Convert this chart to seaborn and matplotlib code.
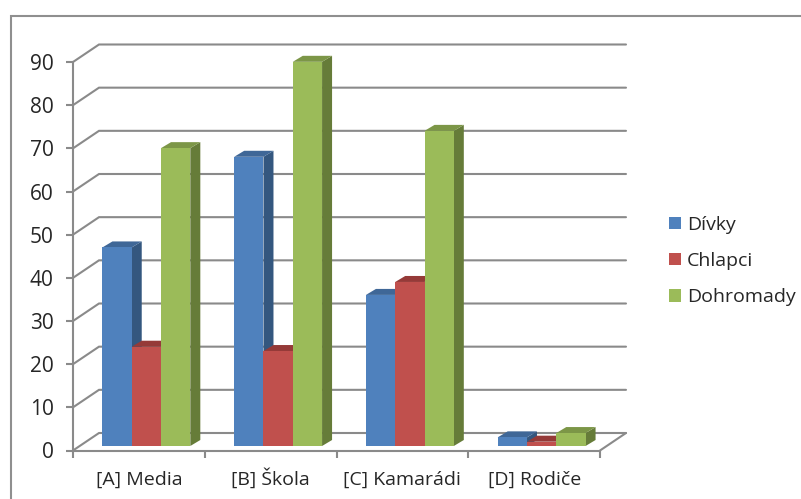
import matplotlib
matplotlib.use("Agg")
import matplotlib.pyplot as plt
from matplotlib.patches import Polygon, Patch
from matplotlib.lines import Line2D
import pandas as pd
import seaborn as sns

categories = ["[A] Media", "[B] Škola", "[C] Kamarádi", "[D] Rodiče"]
divky = [46, 67, 35, 2]
chlapci = [23, 22, 38, 1]
dohromady = [69, 89, 73, 3]
series_names = ["Dívky", "Chlapci", "Dohromady"]
front_colors = ["#4F81BD", "#C0504D", "#9BBB59"]
top_colors = ["#3F6797", "#953A38", "#7C9647"]
side_colors = ["#34577F", "#83322F", "#667C39"]
y_ticks = list(range(0, 100, 10))

GRAY = "#8A8A8A"
TEXT = "#262626"

sns.set_theme(style="white")
plt.rcParams["font.family"] = ["Open Sans", "DejaVu Sans"]

W, H = 801, 499
fig = plt.figure(figsize=(W / 100, H / 100), dpi=100)
L, R, B, T = 73, 600, 450.5, 62
ax = fig.add_axes([L / W, 1 - B / H, (R - L) / W, (B - T) / H])

df = pd.DataFrame({
    "cat": categories * 3,
    "series": sum([[n] * 4 for n in series_names], []),
    "value": divky + chlapci + dohromady,
})
sns.barplot(data=df, x="cat", y="value", hue="series", order=categories,
            hue_order=series_names, palette=front_colors, saturation=1,
            width=0.667, gap=0, dodge=True, linewidth=0, ax=ax, legend=False)

ax.set_xlim(-0.5, 3.5)
ax.set_ylim(0, 90)
px_x = (R - L) / 4
px_y = (B - T) / 90

# perspective offsets, expressed in data units
wall_dx, wall_dy = 26 / px_x, 17.5 / px_y
bar_dx, bar_dy = 10 / px_x, 6 / px_y
shift_x, shift_y = 7.5 / px_x, 4.5 / px_y

# gridlines on the wall and floor
x0, x1 = -0.5, 3.5
for v in y_ticks:
    ax.plot([x0, x0 + wall_dx, x1 + wall_dx], [v, v + wall_dy, v + wall_dy],
            color=GRAY, lw=1.5, clip_on=False, zorder=1, solid_joinstyle="miter")
ax.plot([x1, x1 + wall_dx], [0, wall_dy], color=GRAY, lw=1.5, clip_on=False, zorder=1)

# extrude bars
for s, cont in enumerate(ax.containers):
    for c, p in enumerate(cont.patches):
        z = 3 + c + s * 0.1
        x = p.get_x() + shift_x
        w = p.get_width()
        h = p.get_height()
        p.set_x(x)
        p.set_y(shift_y)
        p.set_zorder(z + 0.02)
        p.set_clip_on(False)
        y = shift_y
        ax.add_patch(Polygon([(x + w, y), (x + w + bar_dx, y + bar_dy),
                              (x + w + bar_dx, y + h + bar_dy), (x + w, y + h)],
                             closed=True, fc=side_colors[s], ec="none", zorder=z,
                             clip_on=False))
        ax.add_patch(Polygon([(x, y + h), (x + w, y + h),
                              (x + w + bar_dx, y + h + bar_dy), (x + bar_dx, y + h + bar_dy)],
                             closed=True, fc=top_colors[s], ec="none", zorder=z + 0.01,
                             clip_on=False))

# axes
for name in ("top", "right"):
    ax.spines[name].set_visible(False)
for name in ("left", "bottom"):
    ax.spines[name].set_color(GRAY)
    ax.spines[name].set_linewidth(1.5)
    ax.spines[name].set_zorder(2)
ax.set_xlabel("")
ax.set_ylabel("")
ax.set_yticks(y_ticks)
ax.set_xticks([-0.5, 0.5, 1.5, 2.5, 3.5])
ax.set_xticklabels([])
ax.set_xticks([0, 1, 2, 3], minor=True)
ax.set_xticklabels(categories, minor=True, fontsize=14, color=TEXT)
for lab in ax.get_xticklabels(minor=True):
    lab.set_va("baseline")
ax.tick_params(axis="x", which="major", length=5, width=1.5, color=GRAY, bottom=True)
ax.tick_params(axis="x", which="minor", length=0, pad=24.5, bottom=False)
ax.tick_params(axis="y", length=5, width=1.5, color=GRAY, left=True, labelsize=15,
               labelcolor=TEXT, pad=9)

# legend
handles = [Patch(fc=c, ec="none", label=n) for c, n in zip(front_colors, series_names)]
fig.legend(handles=handles, loc="center left", bbox_to_anchor=(669 / W, 1 - 261 / H),
           frameon=False, fontsize=14, handlelength=0.62, handleheight=0.62,
           labelspacing=0.94, handletextpad=0.31, borderpad=0, borderaxespad=0,
           labelcolor=TEXT)

# outer frame
fig.add_artist(Line2D([10.5 / W, 10.5 / W, 1], [0, 1 - 15.5 / H, 1 - 15.5 / H],
                      color="#8F8F8F", lw=1.5, transform=fig.transFigure,
                      solid_joinstyle="miter"))

fig.savefig("out.png", dpi=100)
